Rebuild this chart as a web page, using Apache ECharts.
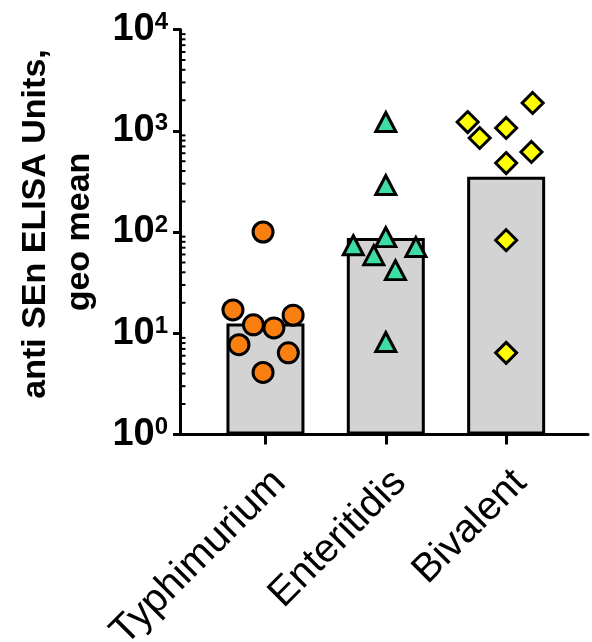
<!DOCTYPE html>
<html>
<head>
<meta charset="utf-8">
<script src="https://cdn.jsdelivr.net/npm/echarts@6/dist/echarts.min.js"></script>
<style>html,body{margin:0;padding:0;background:#fff}#c{width:592px;height:642px}</style>
</head>
<body>
<div id="c"></div>
<script>
var categories = ['Typhimurium', 'Enteritidis', 'Bivalent'];
var barPositions = [1, 2, 3];
var geoMeans = [12.5, 87, 352];
var typhiX = [0.98, 0.73, 0.90, 1.07, 1.23, 0.78, 1.19, 0.98];
var typhiY = [100, 17, 12.1, 11.3, 15.1, 7.7, 6.4, 4.1];
var enterX = [2.00, 2.00, 2.00, 1.73, 2.25, 1.90, 2.08, 2.00];
var enterY = [1220, 291, 89, 74, 71, 59, 42, 8.2];
var bivX = [3.22, 2.68, 2.78, 3.00, 3.21, 3.00, 3.00, 3.00];
var bivY = [1880, 1220, 848, 1065, 617, 480, 83, 6.4];
var yTicks = [1, 10, 100, 1000, 10000];
var minorSteps = [2, 3, 4, 5, 6, 7, 8, 9];
var yTitleLines = ['anti SEn ELISA Units,', 'geo mean'];

var X_MIN = 0.29, X_MAX = 3.68;
var FONT = "'Liberation Sans', Arial, sans-serif";
function pts(xs, ys) { return xs.map(function (x, i) { return [x, ys[i]]; }); }

// minor tick positions on the log axis (2..9 within each decade)
var minorTickData = [];
yTicks.slice(0, -1).forEach(function (d) {
  minorSteps.forEach(function (m) { minorTickData.push([X_MIN, d * m]); });
});

var titleStyle = { fontSize: 34, fontWeight: 'bold', color: '#000', fontFamily: FONT, lineHeight: 44 };

var chart = echarts.init(document.getElementById('c'), null, { renderer: 'canvas' });
chart.setOption({
  animation: false,
  backgroundColor: '#fff',
  grid: { left: 180, right: 4, top: 29.5, bottom: 207.5, containLabel: false, outerBoundsMode: 'none' },
  xAxis: {
    type: 'value', min: X_MIN, max: X_MAX,
    splitLine: { show: false },
    axisLine: { show: true, lineStyle: { color: '#000', width: 3 } },
    axisTick: { show: true, customValues: barPositions, length: 10, lineStyle: { color: '#000', width: 3 } },
    axisLabel: {
      show: true, customValues: barPositions, rotate: 45, margin: 28, verticalAlign: 'top',
      fontSize: 40, color: '#000', fontFamily: FONT,
      formatter: function (v) { var i = barPositions.indexOf(Math.round(v)); return i >= 0 ? categories[i] : ''; }
    }
  },
  yAxis: {
    type: 'log', logBase: 10, min: yTicks[0], max: yTicks[yTicks.length - 1],
    splitNumber: 4,
    name: '{a|' + yTitleLines[0] + '}\n{b|' + yTitleLines[1] + '}',
    nameLocation: 'middle', nameGap: 78,
    nameTextStyle: Object.assign({}, titleStyle, {
      rich: {
        a: Object.assign({}, titleStyle, { padding: [0, 0, 0, 16] }),
        b: Object.assign({}, titleStyle)
      }
    }),
    splitLine: { show: false },
    axisLine: { show: true, lineStyle: { color: '#000', width: 3 } },
    axisTick: { show: true, length: 7, lineStyle: { color: '#000', width: 3 } },
    axisLabel: {
      margin: 12, color: '#000',
      formatter: function (v) { return '{b|10}{s|' + Math.round(Math.log10(v)) + '}'; },
      rich: {
        b: { fontSize: 38, fontWeight: 'bold', fontFamily: FONT, color: '#000', lineHeight: 38 },
        s: { fontSize: 24, fontWeight: 'bold', fontFamily: FONT, color: '#000', verticalAlign: 'top', lineHeight: 38 }
      }
    }
  },
  series: [
    {
      type: 'custom', data: minorTickData, z: 5, silent: true, clip: false,
      renderItem: function (params, api) {
        var p = api.coord([api.value(0), api.value(1)]);
        return { type: 'line', shape: { x1: p[0], y1: p[1], x2: p[0] + 5.5, y2: p[1] },
                 style: { stroke: '#000', lineWidth: 2 } };
      }
    },
    {
      type: 'bar', data: pts(barPositions, geoMeans), barWidth: 78, z: 1,
      itemStyle: { color: '#d3d3d3', borderColor: '#000', borderWidth: 3 }
    },
    {
      type: 'scatter', data: pts(typhiX, typhiY), symbol: 'circle', symbolSize: 20, z: 3,
      itemStyle: { color: '#f97f10', borderColor: '#000', borderWidth: 3, opacity: 1 }
    },
    {
      type: 'scatter', data: pts(enterX, enterY), symbol: 'triangle', symbolSize: [20, 19], z: 3,
      itemStyle: { color: '#3ddca3', borderColor: '#000', borderWidth: 3, opacity: 1 }
    },
    {
      type: 'scatter', data: pts(bivX, bivY), symbol: 'diamond', symbolSize: [21, 21], z: 3,
      itemStyle: { color: '#ffff00', borderColor: '#000', borderWidth: 3, opacity: 1 }
    }
  ]
});
</script>
</body>
</html>
